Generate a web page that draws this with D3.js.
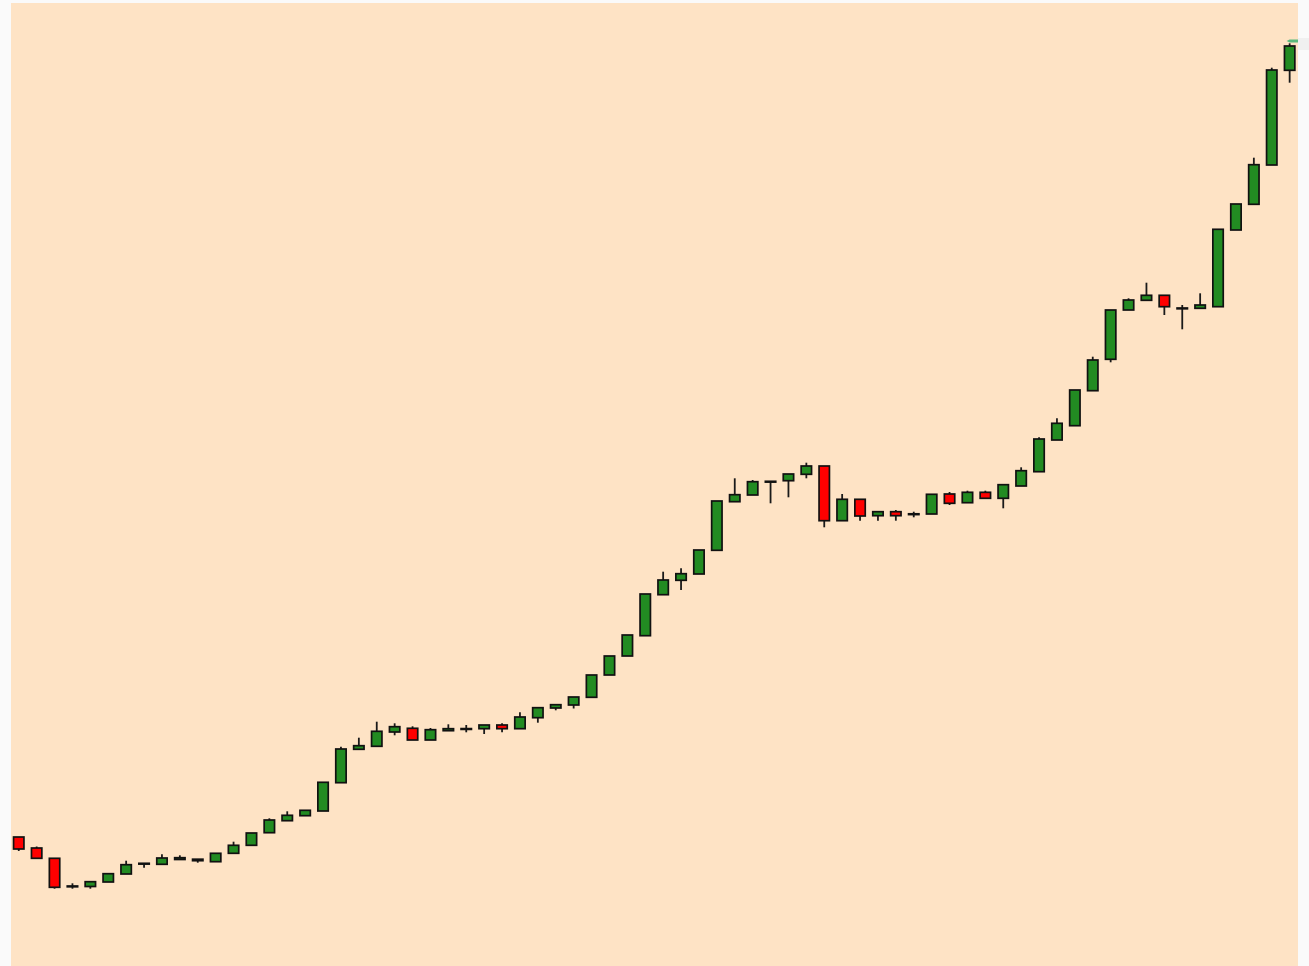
<!DOCTYPE html>
<html>
<head>
<meta charset="utf-8">
<script src="https://cdn.jsdelivr.net/npm/d3@7"></script>
<style>
  html, body { margin: 0; padding: 0; background: #fafafa; }
  svg { display: block; }
</style>
</head>
<body>
<svg width="1309" height="966"></svg>
<script>
// candle data (one entry per session)
var open  = [22.80, 21.70, 20.67, 17.90, 17.85, 18.30, 19.10, 20.15, 20.07, 20.55,
             20.43, 20.33, 21.17, 21.97, 23.23, 24.43, 24.93, 25.40, 28.23, 31.57,
             31.87, 33.30, 33.67, 32.50, 33.43, 33.62, 33.63, 34.00, 33.63, 34.73,
             35.70, 36.00, 36.77, 39.00, 40.90, 42.93, 47.03, 48.47, 49.10, 51.47,
             56.33, 57.00, 58.35, 58.43, 59.07, 59.90, 54.43, 56.57, 54.93, 55.33,
             55.08, 55.10, 57.10, 56.23, 57.27, 56.67, 57.90, 59.33, 62.50, 63.93,
             67.43, 70.57, 75.50, 76.47, 76.97, 75.70, 75.67, 75.83, 83.50, 86.07,
             90.00, 99.47];
var high  = [22.80, 21.85, 20.70, 18.17, 18.33, 19.13, 20.43, 20.17, 21.07, 20.97,
             20.58, 21.17, 22.33, 23.20, 24.67, 25.37, 25.47, 28.27, 31.83, 32.73,
             34.33, 34.17, 33.87, 33.70, 34.07, 34.00, 34.00, 34.17, 35.27, 35.73,
             36.03, 36.80, 39.00, 40.90, 43.00, 47.10, 49.33, 49.67, 51.50, 56.40,
             58.67, 58.50, 58.37, 59.10, 60.23, 59.90, 57.10, 56.57, 55.33, 55.50,
             55.33, 57.07, 57.30, 57.43, 57.43, 58.03, 59.77, 62.77, 64.67, 67.50,
             70.83, 75.50, 76.67, 78.23, 76.97, 76.00, 77.17, 83.57, 86.10, 90.73,
             99.73, 102.17];
var low   = [21.40, 20.65, 17.63, 17.63, 17.63, 18.30, 19.10, 19.73, 20.07, 20.55,
             20.23, 20.33, 21.17, 21.97, 23.23, 24.43, 24.93, 25.40, 28.23, 31.57,
             31.87, 32.97, 32.50, 32.50, 33.43, 33.27, 33.10, 33.27, 33.63, 34.23,
             35.47, 35.65, 36.77, 39.00, 40.90, 42.93, 47.03, 47.50, 49.10, 51.47,
             56.33, 57.00, 56.17, 56.77, 58.67, 53.77, 54.43, 54.43, 54.43, 54.43,
             54.77, 55.10, 56.00, 56.23, 56.67, 55.67, 57.90, 59.33, 62.50, 63.93,
             67.43, 70.27, 75.50, 76.47, 75.00, 73.57, 75.67, 75.83, 83.50, 86.07,
             90.00, 98.23];
var close = [21.60, 20.67, 17.77, 17.88, 18.33, 19.13, 20.03, 20.17, 20.70, 20.73,
             20.58, 21.17, 21.97, 23.20, 24.50, 24.97, 25.47, 28.27, 31.60, 31.93,
             33.37, 33.83, 32.50, 33.53, 33.63, 33.64, 34.00, 33.63, 34.80, 35.73,
             36.03, 36.80, 39.00, 40.90, 43.00, 47.10, 48.50, 49.13, 51.50, 56.40,
             57.03, 58.33, 58.37, 59.10, 59.90, 54.43, 56.57, 54.90, 55.33, 54.93,
             55.12, 57.07, 56.17, 57.27, 56.67, 58.03, 59.43, 62.60, 64.17, 67.50,
             70.50, 75.50, 76.50, 76.97, 75.83, 75.69, 76.00, 83.57, 86.10, 90.03,
             99.50, 101.90];
var lastPrice = 102.4;

var svg = d3.select("svg"),
    width = +svg.attr("width"),
    height = +svg.attr("height");

var plot = {left: 11, top: 3, right: 1298, bottom: 966};

svg.append("defs").append("clipPath")
    .attr("id", "plotclip")
  .append("rect")
    .attr("x", plot.left)
    .attr("y", plot.top)
    .attr("width", plot.right - plot.left)
    .attr("height", plot.bottom - plot.top);

svg.append("rect")
    .attr("x", plot.left)
    .attr("y", plot.top)
    .attr("width", plot.right - plot.left)
    .attr("height", plot.bottom - plot.top)
    .attr("fill", "#fee3c5");

var candles = open.map(function(o, i) {
  return {i: i, o: o, h: high[i], l: low[i], c: close[i]};
});

var x = d3.scaleBand()
    .domain(d3.range(candles.length))
    .range([9.8, 1298.6])
    .paddingInner(0.42)
    .paddingOuter(0.21);

var y = d3.scaleLinear()
    .domain([10, 106.2])
    .range([965, 3]);

var g = svg.append("g").attr("clip-path", "url(#plotclip)");

g.selectAll("line.wick")
    .data(candles)
    .enter().append("line")
      .attr("class", "wick")
      .attr("x1", function(d) { return x(d.i) + x.bandwidth() / 2; })
      .attr("x2", function(d) { return x(d.i) + x.bandwidth() / 2; })
      .attr("y1", function(d) { return y(d.h); })
      .attr("y2", function(d) { return y(d.l); })
      .attr("stroke", "#1a1a1a")
      .attr("stroke-width", 1.8);

g.selectAll("rect.body")
    .data(candles)
    .enter().append("rect")
      .attr("class", "body")
      .attr("x", function(d) { return x(d.i); })
      .attr("width", x.bandwidth())
      .attr("y", function(d) { return y(Math.max(d.o, d.c)); })
      .attr("height", function(d) { return Math.max(0.8, Math.abs(y(d.o) - y(d.c))); })
      .attr("fill", function(d) { return d.c >= d.o ? "#228b22" : "#ff0000"; })
      .attr("stroke", "#111")
      .attr("stroke-width", 1.7);

// last price tag, cut by the plot edge
var ly = y(lastPrice),
    lx = x(candles.length - 1) + x.bandwidth() / 2 - 3;
svg.append("path")
    .attr("d", "M" + lx + "," + ly + "L" + (lx + 3) + "," + (ly - 1.5) +
               "L" + plot.right + "," + (ly - 1.5) + "L" + plot.right + "," + (ly + 1.5) +
               "L" + (lx + 3) + "," + (ly + 1.5) + "Z")
    .attr("fill", "#3cb371")
    .attr("opacity", 0.85);
svg.append("rect")
    .attr("x", plot.right)
    .attr("y", ly - 3)
    .attr("width", width - plot.right)
    .attr("height", 12)
    .attr("fill", "#f0f0f0");
</script>
</body>
</html>
